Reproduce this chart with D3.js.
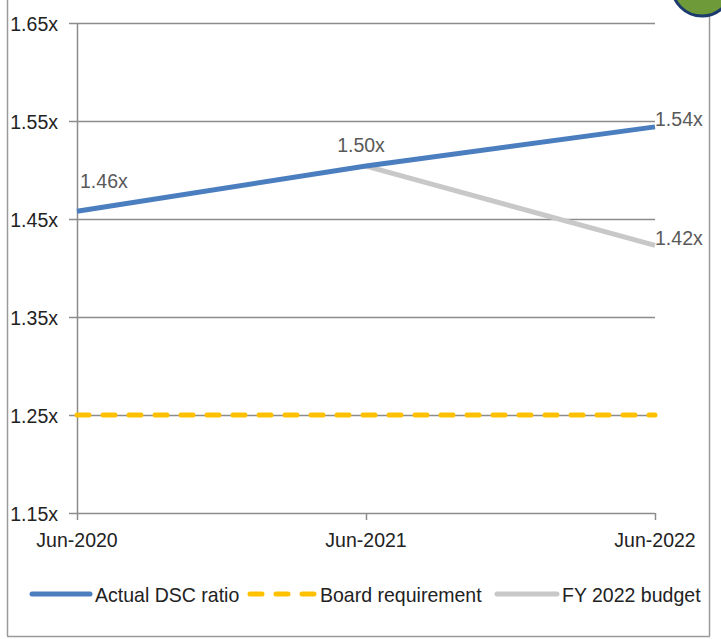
<!DOCTYPE html>
<html><head><meta charset="utf-8">
<script src="https://cdn.jsdelivr.net/npm/d3@7"></script>
<style>body{margin:0;background:#fff}svg{display:block;font-family:"Liberation Sans",Arial,sans-serif}</style>
</head><body><svg id="c" width="721" height="639"></svg>
<script>
const categories = ["Jun-2020","Jun-2021","Jun-2022"];
const actualDSC = [1.458, 1.504, 1.544];
const actualLabels = ["1.46x","1.50x","1.54x"];
const boardReq = [1.25, 1.25, 1.25];
const budgetCats = ["Jun-2021","Jun-2022"];
const budgetVals = [1.504, 1.423];
const budgetLabels = [null, "1.42x"];
const yTicks = [1.15,1.25,1.35,1.45,1.55,1.65];
const seriesNames = ["Actual DSC ratio","Board requirement","FY 2022 budget"];

const FS = 21, SX = 0.93;
const svg = d3.select("#c");
const x = d3.scalePoint().domain(categories).range([77,655]);
const y = d3.scaleLinear().domain([1.15,1.65]).range([513,23]);

function txt(sel){ // condensed text placed via transform
  return sel.attr("font-size",FS)
    .attr("transform",d=>`translate(${d.px},${d.py}) scale(${SX},1)`);
}

// frame
svg.append("line").attr("x1",7.5).attr("x2",7.5).attr("y1",0).attr("y2",636).attr("stroke","#9a9a9a").attr("stroke-width",1.5);
svg.append("line").attr("x1",709.5).attr("x2",709.5).attr("y1",0).attr("y2",636).attr("stroke","#9a9a9a").attr("stroke-width",1.5);
svg.append("line").attr("x1",7).attr("x2",710).attr("y1",636.5).attr("y2",636.5).attr("stroke","#9a9a9a").attr("stroke-width",1.5);
svg.append("circle").attr("cx",702).attr("cy",-14).attr("r",30).attr("fill","#6e9a3a").attr("stroke","#1d3a6e").attr("stroke-width",3);

// gridlines
svg.append("g").selectAll("line").data(yTicks).join("line")
  .attr("x1",69).attr("x2",655).attr("y1",d=>Math.round(y(d))+0.5).attr("y2",d=>Math.round(y(d))+0.5)
  .attr("stroke","#8c8c8c").attr("stroke-width",1.5);
// y axis
svg.append("line").attr("x1",77.5).attr("x2",77.5).attr("y1",y(1.65)).attr("y2",y(1.15)).attr("stroke","#8c8c8c").attr("stroke-width",1.5);
txt(svg.append("g").selectAll("text").data(yTicks.map(v=>({v,px:58,py:y(v)+8}))).join("text"))
  .attr("text-anchor","end").attr("fill","#222").text(d=>d.v.toFixed(2)+"x");
// x ticks
svg.append("g").selectAll("line").data(categories).join("line")
  .attr("x1",d=>x(d)+0.5).attr("x2",d=>x(d)+0.5).attr("y1",513).attr("y2",520).attr("stroke","#8c8c8c").attr("stroke-width",1.5);
txt(svg.append("g").selectAll("text").data(categories.map(c=>({c,px:x(c),py:547}))).join("text"))
  .attr("text-anchor","middle").attr("fill","#222").text(d=>d.c);

const line = d3.line().x(d=>x(d[0])).y(d=>y(d[1]));
// board requirement
svg.append("path").attr("d",line(categories.map((c,i)=>[c,boardReq[i]]))).attr("fill","none")
  .attr("stroke","#ffc000").attr("stroke-width",5).attr("stroke-linecap","round").attr("stroke-dasharray","12,14");
// budget
svg.append("path").attr("d",line(budgetCats.map((c,i)=>[c,budgetVals[i]]))).attr("fill","none")
  .attr("stroke","#c8c8c8").attr("stroke-width",5);
// actual
svg.append("path").attr("d",line(categories.map((c,i)=>[c,actualDSC[i]]))).attr("fill","none")
  .attr("stroke","#4a7ebf").attr("stroke-width",5);

// data labels
const lbl = [
  {c:"Jun-2020", v:actualDSC[0], t:actualLabels[0], dx:3, dy:-23, a:"start"},
  {c:"Jun-2021", v:actualDSC[1], t:actualLabels[1], dx:-5, dy:-14, a:"middle"},
  {c:"Jun-2022", v:actualDSC[2], t:actualLabels[2], dx:0, dy:-1, a:"start"},
  {c:"Jun-2022", v:budgetVals[1], t:budgetLabels[1], dx:0, dy:0, a:"start"}
].map(d=>({...d, px:x(d.c)+d.dx, py:y(d.v)+d.dy}));
txt(svg.append("g").selectAll("text").data(lbl).join("text"))
  .attr("text-anchor",d=>d.a).attr("fill","#595959").text(d=>d.t);

// legend
const leg = [
  {x1:32,x2:90,tx:95,col:"#4a7ebf",dash:null,cap:"round",name:seriesNames[0]},
  {x1:250,x2:315,tx:320,col:"#ffc000",dash:"12,14",cap:"round",name:seriesNames[1]},
  {x1:497,x2:557,tx:562,col:"#c8c8c8",dash:null,cap:"round",name:seriesNames[2]}
].map(d=>({...d, px:d.tx, py:602}));
const lg = svg.append("g").selectAll("g").data(leg).join("g");
lg.append("line").attr("x1",d=>d.x1).attr("x2",d=>d.x2).attr("y1",594).attr("y2",594)
  .attr("stroke",d=>d.col).attr("stroke-width",5).attr("stroke-linecap",d=>d.cap).attr("stroke-dasharray",d=>d.dash);
txt(lg.append("text")).attr("fill","#222").text(d=>d.name);
</script></body></html>
